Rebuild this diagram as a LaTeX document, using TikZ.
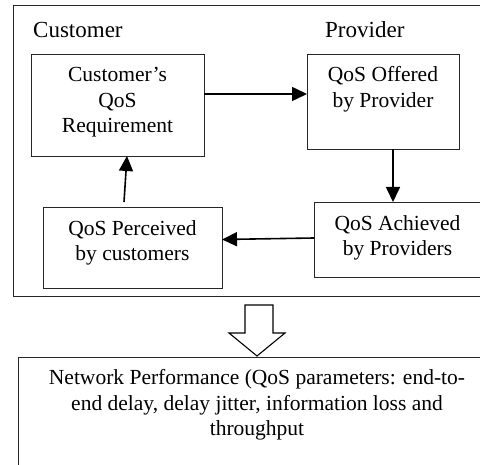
\documentclass[tikz,border=0pt]{standalone}
\usepackage{fontspec}
\setmainfont{Liberation Serif}
\usetikzlibrary{arrows.meta,calc}
\begin{document}
\begin{tikzpicture}[x=1pt,y=1pt,
  box/.style={draw=black!85,line width=0.9pt,inner sep=0pt},
  txt/.style={align=center,font=\fontsize{21.5}{25.5}\selectfont,inner sep=0pt},
  lbl/.style={font=\fontsize{23}{27}\selectfont,inner sep=0pt},
  arr/.style={line width=1.6pt,-{Triangle[length=15pt,width=14pt]}}]
\useasboundingbox (0,0) rectangle (480,-465);
\clip (0,0) rectangle (480,-465);
% outer frame
\draw[box] (13,-5) rectangle (484,-296);
\node[lbl,anchor=base west] (lc) at (33,-38) {Customer};
\node[lbl,anchor=base west] (lp) at (325,-38) {Provider};
% boxes
\draw[box] (31,-54) rectangle (204,-156);
\coordinate (reqE) at (204,-94);
\coordinate (reqS) at (127,-156);
\node[txt] (req) at (117.5,-102.5) {Customer’s\\QoS\\Requirement};
\draw[box] (307,-54) rectangle (459,-149);
\coordinate (ofrW) at (307,-94);
\coordinate (ofrS) at (393,-149);
\node[txt] (ofr) at (383,-89.5) {QoS Offered\\by Provider};
\draw[box] (314,-202) rectangle (481,-277);
\coordinate (achN) at (393,-202);
\coordinate (achW) at (314,-238);
\node[txt] (ach) at (397.5,-238) {QoS Achieved\\by Providers};
\draw[box] (43,-207) rectangle (222,-288);
\coordinate (perE) at (222,-239.5);
\coordinate (perN) at (124,-202);
\node[txt] (per) at (132.5,-243) {QoS Perceived\\by customers};
% arrows
\draw[arr] (reqE) -- (ofrW);
\draw[arr] (ofrS) -- (achN);
\draw[arr] (achW) -- (perE);
\draw[arr] (perN) -- (reqS);
% hollow arrow
\draw[line width=1.1pt,line join=miter] (245,-305) -- (273,-305) -- (273,-333) -- (285,-333) -- (257,-356) -- (229,-333) -- (245,-333) -- cycle;
% bottom box
\draw[box] (18,-357) rectangle (490,-490);
\node[txt] (np) at (257,-405) {Network Performance (QoS parameters: end-to-\\end delay, delay jitter, information loss and\\throughput};
\end{tikzpicture}
\end{document}
